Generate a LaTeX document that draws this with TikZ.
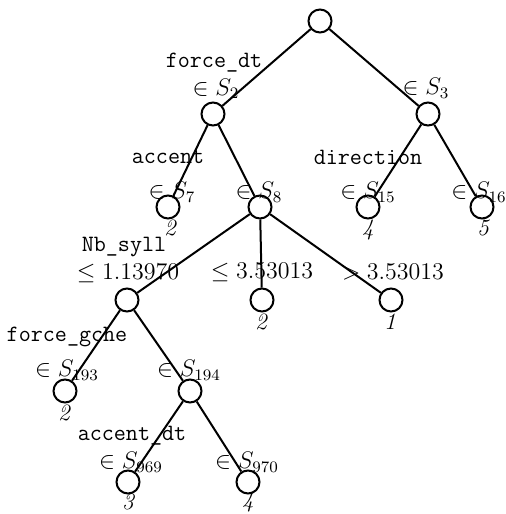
\documentclass[tikz,border=0pt]{standalone}
\begin{document}
\begin{tikzpicture}[x=0.5pt,y=-0.5pt,
  tn/.style={circle,draw,line width=1pt,minimum size=11.5pt,inner sep=0pt},
  lab/.style={inner sep=0pt,font=\fontsize{11.7}{14}\selectfont},
  leafnum/.style={inner sep=0pt,font=\fontsize{11.7}{14}\selectfont\itshape},
  edge/.style={line width=1pt}]
\useasboundingbox (0,0) rectangle (506,514);
% tree nodes
\node[tn] (r) at (320,21) {};
\node[tn] (a) at (213,114) {};
\node[tn] (b) at (428,114) {};
\node[tn] (l1) at (168,207) {};
\node[tn] (c) at (260,207) {};
\node[tn] (l2) at (368,207) {};
\node[tn] (l3) at (482,207) {};
\node[tn] (d) at (127,300) {};
\node[tn] (l4) at (262,300) {};
\node[tn] (l5) at (391,300) {};
\node[tn] (l6) at (65,391) {};
\node[tn] (e) at (190,391) {};
\node[tn] (l7) at (128,482) {};
\node[tn] (l8) at (248,482) {};
% edges
\draw[edge] (r) -- (a);
\draw[edge] (r) -- (b);
\draw[edge] (a) -- (l1);
\draw[edge] (a) -- (c);
\draw[edge] (b) -- (l2);
\draw[edge] (b) -- (l3);
\draw[edge] (c) -- (d);
\draw[edge] (c) -- (l4);
\draw[edge] (c) -- (l5);
\draw[edge] (d) -- (l6);
\draw[edge] (d) -- (e);
\draw[edge] (e) -- (l7);
\draw[edge] (e) -- (l8);
% labels
\node[lab] (t1) at (214,63) {\texttt{force\_dt}};
\node[lab] (t2) at (216,89) {$\in S_2$};
\node[lab] (t3) at (426,88) {$\in S_3$};
\node[lab] (t4) at (168,157) {\texttt{accent}};
\node[lab] (t5) at (172,192) {$\in S_7$};
\node[lab] (t6) at (259,192) {$\in S_8$};
\node[lab] (t7) at (368,157) {\texttt{direction}};
\node[lab] (t8) at (368,192) {$\in S_{15}$};
\node[lab] (t9) at (479,192) {$\in S_{16}$};
\node[lab] (t10) at (124,247) {\texttt{Nb\_syll}};
\node[lab] (t11) at (128,273) {$\leq 1.13970$};
\node[lab] (t12) at (262,272) {$\leq 3.53013$};
\node[lab] (t13) at (393,272) {$> 3.53013$};
\node[lab] (t14) at (67,337) {\texttt{force\_gche}};
\node[lab] (t15) at (67,370) {$\in S_{193}$};
\node[lab] (t16) at (189,370) {$\in S_{194}$};
\node[lab] (t17) at (132,436) {\texttt{accent\_dt}};
\node[lab] (t18) at (131,462) {$\in S_{969}$};
\node[lab] (t19) at (247,462) {$\in S_{970}$};
% leaf numbers
\node[leafnum] (n1) at (170,228) {2};
\node[leafnum] (n2) at (368,230) {4};
\node[leafnum] (n3) at (483,228) {5};
\node[leafnum] (n4) at (261,322) {2};
\node[leafnum] (n5) at (390,322) {1};
\node[leafnum] (n6) at (64,413) {2};
\node[leafnum] (n7) at (128,502) {3};
\node[leafnum] (n8) at (248,502) {4};
\end{tikzpicture}
\end{document}
